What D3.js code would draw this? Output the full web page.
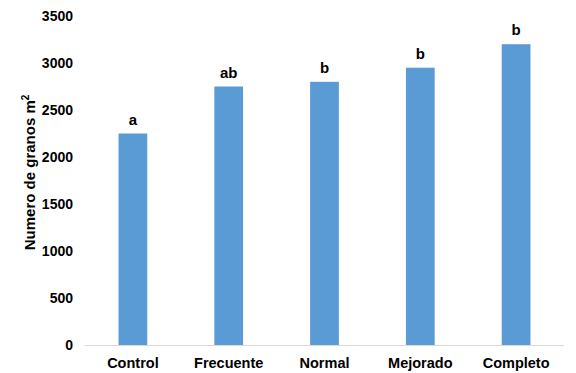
<!DOCTYPE html>
<html>
<head>
<meta charset="utf-8">
<script src="https://cdn.jsdelivr.net/npm/d3@7"></script>
<style>
  body { margin: 0; background: #fff; }
  text { font-family: "Liberation Sans", Arial, sans-serif; font-weight: bold; fill: #000; }
</style>
</head>
<body>
<div id="chart"></div>
<script>
// chart data
const categories = ["Control", "Frecuente", "Normal", "Mejorado", "Completo"];
const values = [2250, 2750, 2800, 2950, 3200];
const letters = ["a", "ab", "b", "b", "b"];
const yTicks = [0, 500, 1000, 1500, 2000, 2500, 3000, 3500];

const width = 576, height = 373;
const margin = { top: 16, right: 12, bottom: 28, left: 85 };

const svg = d3.select("#chart").append("svg")
    .attr("width", width)
    .attr("height", height);

const x = d3.scaleBand()
    .domain(categories)
    .range([margin.left, width - margin.right])
    .paddingInner(0.7)
    .paddingOuter(0.35);

const y = d3.scaleLinear()
    .domain([0, 3500])
    .range([height - margin.bottom, margin.top]);

// y tick labels (no axis line)
const yAxis = svg.append("g")
    .attr("transform", `translate(${margin.left},0)`)
    .call(d3.axisLeft(y).tickValues(yTicks).tickFormat(d3.format("d")).tickSize(0).tickPadding(12));
yAxis.select(".domain").remove();
yAxis.selectAll("text")
    .style("font-size", "14px")
    .style("font-weight", "bold")
    .attr("font-family", null);

// bars
svg.selectAll(".bar")
    .data(values)
    .enter().append("rect")
    .attr("class", "bar")
    .attr("x", (d, i) => x(categories[i]))
    .attr("y", d => y(d))
    .attr("width", x.bandwidth())
    .attr("height", d => y(0) - y(d))
    .attr("fill", "#5b9bd5");

// baseline
svg.append("line")
    .attr("x1", margin.left)
    .attr("x2", width - margin.right)
    .attr("y1", y(0) + 0.5)
    .attr("y2", y(0) + 0.5)
    .attr("stroke", "#d9d9d9")
    .attr("stroke-width", 1);

// significance letters
svg.selectAll(".letter")
    .data(values)
    .enter().append("text")
    .attr("class", "letter")
    .attr("x", (d, i) => x(categories[i]) + x.bandwidth() / 2)
    .attr("y", d => y(d) - 9)
    .attr("text-anchor", "middle")
    .style("font-size", "15px")
    .text((d, i) => letters[i]);

// category labels
svg.selectAll(".cat")
    .data(categories)
    .enter().append("text")
    .attr("class", "cat")
    .attr("x", d => x(d) + x.bandwidth() / 2)
    .attr("y", y(0) + 23)
    .attr("text-anchor", "middle")
    .style("font-size", "14.5px")
    .text(d => d);

// y title
const title = svg.append("text")
    .attr("transform", `translate(35,${(margin.top + y(0)) / 2 - 8}) rotate(-90)`)
    .attr("text-anchor", "middle")
    .style("font-size", "15px");
title.append("tspan").text("Numero de granos m");
title.append("tspan").attr("dy", -6).style("font-size", "10px").text("2");
</script>
</body>
</html>
